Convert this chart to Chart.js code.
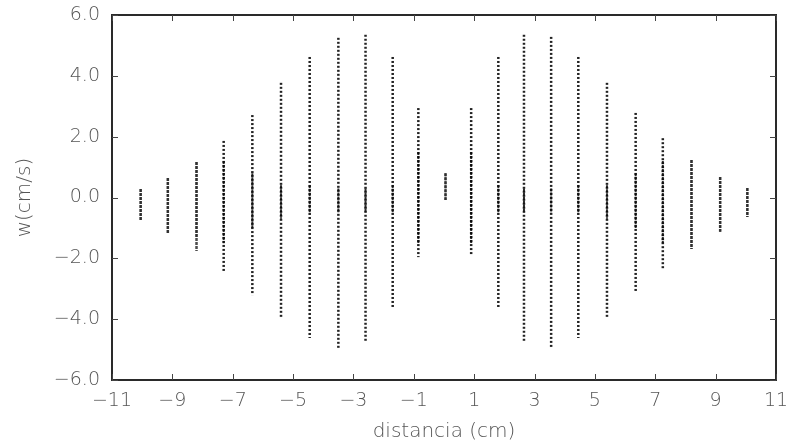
<!DOCTYPE html>
<html>
<head>
<meta charset="utf-8">
<script src="https://cdn.jsdelivr.net/npm/chart.js@4.4.1/dist/chart.umd.min.js"></script>
<style>
  html, body { margin: 0; background: #fff; }
</style>
</head>
<body>
<canvas id="chart" width="786" height="447"></canvas>
<script>
// streak positions (cm) and the vertical extent of each streak (cm/s)
const positions   = [-10.05, -9.15, -8.2, -7.3, -6.35, -5.4, -4.45, -3.5, -2.6, -1.7, -0.85, 0.05, 0.9, 1.8, 2.65, 3.55, 4.45, 5.4, 6.35, 7.25, 8.2, 9.15, 10.05];
const tops        = [0.28, 0.64, 1.17, 1.86, 2.71, 3.77, 4.62, 5.25, 5.35, 4.62, 2.94, 0.8, 2.94, 4.62, 5.35, 5.28, 4.62, 3.77, 2.78, 1.95, 1.23, 0.67, 0.31];
const bottoms     = [-0.74, -1.2, -1.76, -2.45, -3.21, -3.93, -4.62, -4.95, -4.75, -3.6, -1.96, -0.08, -1.89, -3.63, -4.75, -4.92, -4.62, -3.93, -3.1, -2.36, -1.69, -1.13, -0.64];
// darker, denser part near the middle of each streak
const coreTops    = [0.28, 0.64, 1.17, 1.2, 0.8, 0.4, 0.4, 0.3, 0.3, 0.4, 1.5, 0.8, 1.5, 0.4, 0.3, 0.3, 0.4, 0.4, 0.8, 1.2, 1.23, 0.67, 0.31];
const coreBottoms = [-0.74, -1.2, -1.3, -1.5, -1.0, -0.7, -0.5, -0.5, -0.5, -0.5, -1.5, -0.08, -1.5, -0.5, -0.5, -0.5, -0.5, -0.7, -1.0, -1.5, -1.69, -1.13, -0.64];
const xTicks = [-11, -9, -7, -5, -3, -1, 1, 3, 5, 7, 9, 11];
const yTicks = [-6, -4, -2, 0, 2, 4, 6];

const MINUS = '\u2212';
const fmt = (v, d) => (v < 0 ? MINUS : '') + Math.abs(v).toFixed(d);

const datasets = [];
positions.forEach((x, i) => {
  const short = tops[i] - bottoms[i] < 3.2;
  datasets.push({
    data: [{ x: x, y: tops[i] }, { x: x, y: bottoms[i] }],
    borderColor: short ? 'rgba(45,45,45,0.85)' : 'rgba(10,10,10,0.9)',
    borderWidth: 2.5,
    borderDash: short ? [3, 1] : [2, 2],
    pointRadius: 0
  });
  datasets.push({
    data: [{ x: x, y: coreTops[i] }, { x: x, y: coreBottoms[i] }],
    borderColor: short ? 'rgba(45,45,45,0.85)' : 'rgba(10,10,10,0.85)',
    borderWidth: 2,
    borderDash: short ? [3, 1] : [3, 1],
    pointRadius: 0
  });
});

// box round the plot with inward ticks on all four sides
const frame = {
  id: 'frame',
  afterDraw(chart) {
    const { ctx, chartArea: a, scales: { x, y } } = chart;
    ctx.save();
    ctx.strokeStyle = '#2a2a2a';
    ctx.lineWidth = 2;
    ctx.strokeRect(a.left, a.top, a.right - a.left, a.bottom - a.top);
    ctx.lineWidth = 1;
    ctx.strokeStyle = '#444';
    ctx.beginPath();
    x.ticks.forEach(t => {
      const px = Math.round(x.getPixelForValue(t.value)) + 0.5;
      ctx.moveTo(px, a.bottom); ctx.lineTo(px, a.bottom - 6);
      ctx.moveTo(px, a.top); ctx.lineTo(px, a.top + 6);
    });
    y.ticks.forEach(t => {
      const py = Math.round(y.getPixelForValue(t.value)) + 0.5;
      ctx.moveTo(a.left, py); ctx.lineTo(a.left + 6, py);
      ctx.moveTo(a.right, py); ctx.lineTo(a.right - 6, py);
    });
    ctx.stroke();
    ctx.restore();
  }
};

const tickFont = { family: 'DejaVu Sans', size: 19, weight: 200 };
const titleFont = { family: 'DejaVu Sans', size: 20, weight: 200 };

new Chart(document.getElementById('chart'), {
  type: 'scatter',
  data: { datasets: datasets },
  options: {
    responsive: false,
    animation: false,
    showLine: true,
    layout: { padding: { top: 15, right: 10, left: 0, bottom: 0 } },
    plugins: { legend: { display: false }, tooltip: { enabled: false } },
    scales: {
      x: {
        type: 'linear',
        min: -11,
        max: 11,
        afterBuildTicks: s => { s.ticks = xTicks.map(v => ({ value: v })); },
        afterFit: s => { s.height = 67; s.paddingLeft = 0; s.paddingRight = 0; },
        grid: { display: false, drawTicks: false },
        border: { display: false },
        ticks: { color: '#555', font: tickFont, padding: 10, maxRotation: 0, callback: v => fmt(v, 0) },
        title: { display: true, text: 'distancia (cm)', color: '#555', font: titleFont, padding: { top: 0, bottom: 3 } }
      },
      y: {
        type: 'linear',
        min: -6,
        max: 6,
        afterBuildTicks: s => { s.ticks = yTicks.map(v => ({ value: v })); },
        afterFit: s => { s.width = 112; s.paddingTop = 0; s.paddingBottom = 0; },
        grid: { display: false, drawTicks: false },
        border: { display: false },
        ticks: { color: '#555', font: tickFont, padding: 12, callback: v => fmt(v, 1) },
        title: { display: true, text: 'w(cm/s)', color: '#555', font: titleFont, padding: { top: 13, bottom: 13 } }
      }
    }
  },
  plugins: [frame]
});
</script>
</body>
</html>
